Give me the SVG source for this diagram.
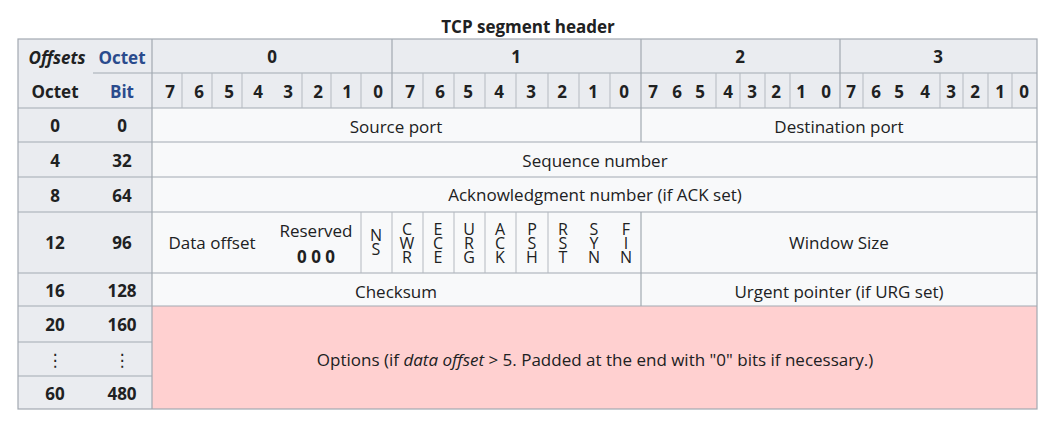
<svg xmlns="http://www.w3.org/2000/svg" width="1051" height="429" viewBox="0 0 1051 429">
<style>
text{font-family:"Open Sans","Noto Sans","DejaVu Sans",sans-serif;font-size:17px;fill:#202122;text-anchor:middle;dominant-baseline:central}
.b{font-weight:700}
.blue{fill:#2a4b8d;font-weight:700}
.flag{font-size:16px}
.ln{stroke:#a2a9b1;stroke-width:1.2;fill:none}
.thin{stroke:#b4b9c0;stroke-width:1}
.head{fill:#eaecf0}
.body{fill:#f8f9fa}
.opt{fill:#ffd0d0}
</style>
<rect width="1051" height="429" fill="#ffffff"/>
<text id="title" x="528" y="26" class="b" font-size="16.5">TCP segment header</text>

<g id="backgrounds">
<rect class="head" x="18" y="39" width="1019" height="69"/>
<rect class="head" x="18" y="108" width="134" height="301"/>
<rect class="body" x="152" y="108" width="885" height="198"/>
<rect class="opt" x="152" y="306" width="885" height="103"/>
</g>

<g id="grid">
<rect class="ln" x="18" y="39" width="1019" height="370"/>
<line class="ln" x1="152" y1="39" x2="152" y2="409"/>
<line class="ln" x1="93" y1="73" x2="1037" y2="73"/>
<line class="ln" x1="18" y1="108" x2="1037" y2="108"/>
<line class="ln" x1="18" y1="142" x2="1037" y2="142"/>
<line class="ln" x1="18" y1="177" x2="1037" y2="177"/>
<line class="ln" x1="18" y1="212" x2="1037" y2="212"/>
<line class="ln" x1="18" y1="273" x2="1037" y2="273"/>
<line class="ln" x1="18" y1="306" x2="1037" y2="306"/>
<line class="ln" x1="18" y1="342" x2="152" y2="342"/>
<line class="ln" x1="18" y1="376" x2="152" y2="376"/>
<line class="ln" x1="392" y1="39" x2="392" y2="108"/>
<line class="ln" x1="641" y1="39" x2="641" y2="142"/>
<line class="ln" x1="840" y1="39" x2="840" y2="108"/>
<g class="thin">
<line x1="182" y1="73" x2="182" y2="108"/><line x1="212" y1="73" x2="212" y2="108"/>
<line x1="242" y1="73" x2="242" y2="108"/><line x1="302" y1="73" x2="302" y2="108"/>
<line x1="331" y1="73" x2="331" y2="108"/><line x1="361" y1="73" x2="361" y2="108"/>
<line x1="423" y1="73" x2="423" y2="108"/><line x1="454" y1="73" x2="454" y2="108"/>
<line x1="485" y1="73" x2="485" y2="108"/><line x1="516" y1="73" x2="516" y2="108"/>
<line x1="548" y1="73" x2="548" y2="108"/><line x1="579" y1="73" x2="579" y2="108"/>
<line x1="610" y1="73" x2="610" y2="108"/>
<line x1="716" y1="73" x2="716" y2="108"/><line x1="740" y1="73" x2="740" y2="108"/>
<line x1="765" y1="73" x2="765" y2="108"/><line x1="790" y1="73" x2="790" y2="108"/>
<line x1="863" y1="73" x2="863" y2="108"/><line x1="940" y1="73" x2="940" y2="108"/>
<line x1="963" y1="73" x2="963" y2="108"/><line x1="988" y1="73" x2="988" y2="108"/>
<line x1="1012" y1="73" x2="1012" y2="108"/>
</g>
<g class="thin">
<line x1="361" y1="212" x2="361" y2="273"/><line x1="392" y1="212" x2="392" y2="273"/>
<line x1="423" y1="212" x2="423" y2="273"/><line x1="454" y1="212" x2="454" y2="273"/>
<line x1="485" y1="212" x2="485" y2="273"/><line x1="516" y1="212" x2="516" y2="273"/>
<line x1="548" y1="212" x2="548" y2="273"/>
</g>
<line class="ln" x1="641" y1="212" x2="641" y2="306"/>
</g>

<g id="header-left">
<text x="57" y="57" class="b" font-style="italic">Offsets</text>
<text x="122" y="57" class="blue">Octet</text>
<text x="55" y="91" class="b">Octet</text>
<text x="122" y="91" class="blue">Bit</text>
</g>

<g id="header-octets">
<text x="272" y="56" class="b">0</text>
<text x="516" y="56" class="b">1</text>
<text x="740" y="56" class="b">2</text>
<text x="938" y="56" class="b">3</text>
</g>

<g id="header-bits">
<text class="b" x="170" y="91">7</text><text class="b" x="199" y="91">6</text><text class="b" x="229" y="91">5</text><text class="b" x="258" y="91">4</text>
<text class="b" x="288" y="91">3</text><text class="b" x="318" y="91">2</text><text class="b" x="347" y="91">1</text><text class="b" x="378" y="91">0</text>
<text class="b" x="410" y="91">7</text><text class="b" x="440" y="91">6</text><text class="b" x="468" y="91">5</text><text class="b" x="499" y="91">4</text>
<text class="b" x="531" y="91">3</text><text class="b" x="562" y="91">2</text><text class="b" x="593" y="91">1</text><text class="b" x="624" y="91">0</text>
<text class="b" x="653" y="91">7</text><text class="b" x="677" y="91">6</text><text class="b" x="700" y="91">5</text><text class="b" x="728" y="91">4</text>
<text class="b" x="752" y="91">3</text><text class="b" x="776" y="91">2</text><text class="b" x="801" y="91">1</text><text class="b" x="826" y="91">0</text>
<text class="b" x="851" y="91">7</text><text class="b" x="876" y="91">6</text><text class="b" x="899" y="91">5</text><text class="b" x="925" y="91">4</text>
<text class="b" x="951" y="91">3</text><text class="b" x="975" y="91">2</text><text class="b" x="1000" y="91">1</text><text class="b" x="1024" y="91">0</text>
</g>

<g id="offsets">
<text class="b" x="55" y="125">0</text><text class="b" x="122" y="125">0</text>
<text class="b" x="55" y="160">4</text><text class="b" x="122" y="160">32</text>
<text class="b" x="55" y="195">8</text><text class="b" x="122" y="195">64</text>
<text class="b" x="55" y="242">12</text><text class="b" x="122" y="242">96</text>
<text class="b" x="55" y="290">16</text><text class="b" x="122" y="290">128</text>
<text class="b" x="55" y="324">20</text><text class="b" x="122" y="324">160</text>
<text x="55" y="359">⋮</text><text x="122" y="359">⋮</text>
<text class="b" x="55" y="393">60</text><text class="b" x="122" y="393">480</text>
</g>

<g id="source-port"><text x="396" y="126">Source port</text></g>
<g id="destination-port"><text x="839" y="126">Destination port</text></g>
<g id="sequence-number"><text x="595" y="160">Sequence number</text></g>
<g id="ack-number"><text x="595" y="194">Acknowledgment number (if ACK set)</text></g>
<g id="data-offset"><text x="212" y="242">Data offset</text></g>
<g id="reserved"><text x="316" y="230">Reserved</text><text x="316" y="256" class="b">0 0 0</text></g>
<g id="flags">
<text id="flag-ns" class="flag" x="376" y="235">N<tspan x="376" dy="14">S</tspan></text>
<text id="flag-cwr" class="flag" x="407" y="229">C<tspan x="407" dy="14">W</tspan><tspan x="407" dy="14">R</tspan></text>
<text id="flag-ece" class="flag" x="438" y="229">E<tspan x="438" dy="14">C</tspan><tspan x="438" dy="14">E</tspan></text>
<text id="flag-urg" class="flag" x="469" y="229">U<tspan x="469" dy="14">R</tspan><tspan x="469" dy="14">G</tspan></text>
<text id="flag-ack" class="flag" x="500" y="229">A<tspan x="500" dy="14">C</tspan><tspan x="500" dy="14">K</tspan></text>
<text id="flag-psh" class="flag" x="532" y="229">P<tspan x="532" dy="14">S</tspan><tspan x="532" dy="14">H</tspan></text>
<text id="flag-rst" class="flag" x="563" y="229">R<tspan x="563" dy="14">S</tspan><tspan x="563" dy="14">T</tspan></text>
<text id="flag-syn" class="flag" x="594" y="229">S<tspan x="594" dy="14">Y</tspan><tspan x="594" dy="14">N</tspan></text>
<text id="flag-fin" class="flag" x="626" y="229">F<tspan x="626" dy="14">I</tspan><tspan x="626" dy="14">N</tspan></text>
</g>
<g id="window-size"><text x="839" y="242">Window Size</text></g>
<g id="checksum"><text x="396" y="291">Checksum</text></g>
<g id="urgent-pointer"><text x="839" y="291">Urgent pointer (if URG set)</text></g>
<g id="options"><text x="595" y="359">Options (if <tspan font-style="italic">data offset</tspan> &gt; 5. Padded at the end with "0" bits if necessary.)</text></g>
</svg>
